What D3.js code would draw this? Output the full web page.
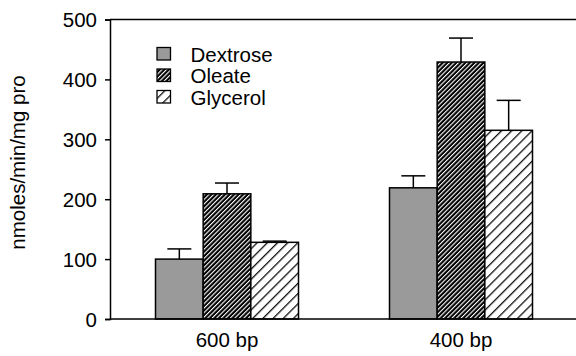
<!DOCTYPE html>
<html><head><meta charset="utf-8">
<script src="https://cdn.jsdelivr.net/npm/d3@7"></script>
<style>body{margin:0;background:#fff}text{font-family:"Liberation Sans",Arial,sans-serif}</style>
</head><body>
<svg id="c" width="576" height="356"></svg>
<script>
const categories = ["600 bp", "400 bp"];
const seriesNames = ["Dextrose", "Oleate", "Glycerol"];
const dextrose = [100, 219];
const oleate = [209, 429];
const glycerol = [128, 315];
const dextroseErr = [17, 20];
const oleateErr = [18, 40];
const glycerolErr = [2, 50];
const yTicks = [0, 100, 200, 300, 400, 500];

const values = [dextrose, oleate, glycerol];
const errs = [dextroseErr, oleateErr, glycerolErr];

const svg = d3.select("#c");
const fs = "20.5px";
const ff = '"Liberation Sans",Arial,sans-serif';
const y = d3.scaleLinear().domain([0, 500]).range([319, 19.5]);
const x0 = d3.scaleBand().domain(categories).range([110, 578]).padding(0);
const groupW = 143;
const x1 = d3.scaleBand().domain(seriesNames).range([0, groupW]).padding(0);

const defs = svg.append("defs");
const p1 = defs.append("pattern").attr("id", "oleate").attr("patternUnits", "userSpaceOnUse")
  .attr("width", 3.2).attr("height", 10).attr("patternTransform", "rotate(45)");
p1.append("rect").attr("width", 3.2).attr("height", 10).attr("fill", "#000");
p1.append("rect").attr("x", 0).attr("width", 1.1).attr("height", 10).attr("fill", "#fff");
const p2 = defs.append("pattern").attr("id", "glycerol").attr("patternUnits", "userSpaceOnUse")
  .attr("width", 7.2).attr("height", 10).attr("patternTransform", "rotate(45)");
p2.append("rect").attr("width", 7.2).attr("height", 10).attr("fill", "#fff");
p2.append("rect").attr("x", 0).attr("width", 1.3).attr("height", 10).attr("fill", "#111");

const fills = ["#9a9a9a", "url(#oleate)", "url(#glycerol)"];

// frame top line
svg.append("line").attr("x1", 110).attr("x2", 576).attr("y1", y(500)).attr("y2", y(500))
  .attr("stroke", "#000").attr("stroke-width", 1.5);

// bars
seriesNames.forEach((s, si) => {
  categories.forEach((c, ci) => {
    const gx = x0(c) + (x0.bandwidth() - groupW) / 2 + x1(s);
    const v = values[si][ci], e = errs[si][ci];
    const cx = gx + x1.bandwidth() / 2;
    svg.append("line").attr("x1", cx).attr("x2", cx).attr("y1", y(v)).attr("y2", y(v + e))
      .attr("stroke", "#000").attr("stroke-width", 1.5);
    svg.append("line").attr("x1", cx - 12).attr("x2", cx + 12).attr("y1", y(v + e)).attr("y2", y(v + e))
      .attr("stroke", "#000").attr("stroke-width", 1.5);
    svg.append("rect").attr("x", gx).attr("y", y(v)).attr("width", x1.bandwidth()).attr("height", y(0) - y(v))
      .attr("fill", fills[si]).attr("stroke", "#000").attr("stroke-width", 1.5);
  });
});

// axes
const yAxis = svg.append("g").attr("transform", "translate(110,0)")
  .call(d3.axisLeft(y).tickValues(yTicks).tickSize(5).tickPadding(8));
yAxis.select(".domain").attr("stroke-width", 1.5);
yAxis.selectAll(".tick line").attr("stroke-width", 1.5);
yAxis.selectAll("text").attr("font-size", fs).attr("fill", "#000").attr("dy", "0.35em")
  .style("font-family", ff);

svg.append("line").attr("x1", 110).attr("x2", 576).attr("y1", y(0)).attr("y2", y(0))
  .attr("stroke", "#000").attr("stroke-width", 1.5);

const xAxis = svg.append("g").attr("transform", `translate(0,${y(0)})`)
  .call(d3.axisBottom(x0).tickSize(0).tickPadding(13.5));
xAxis.select(".domain").remove();
xAxis.selectAll("text").attr("font-size", fs).attr("fill", "#000")
  .style("font-family", ff);

// y label
svg.append("text").attr("transform", "translate(25,162.5) rotate(-90)")
  .attr("text-anchor", "middle").attr("font-size", fs).text("nmoles/min/mg pro");

// legend
const leg = svg.append("g");
seriesNames.forEach((s, i) => {
  const ly = 47.5 + i * 21.5;
  leg.append("rect").attr("x", 157).attr("y", ly).attr("width", 13.5).attr("height", 12.5)
    .attr("fill", fills[i]).attr("stroke", "#000").attr("stroke-width", 1.3);
  leg.append("text").attr("x", 190.5).attr("y", ly + 14).attr("font-size", fs).text(s);
});
</script>
</body></html>
